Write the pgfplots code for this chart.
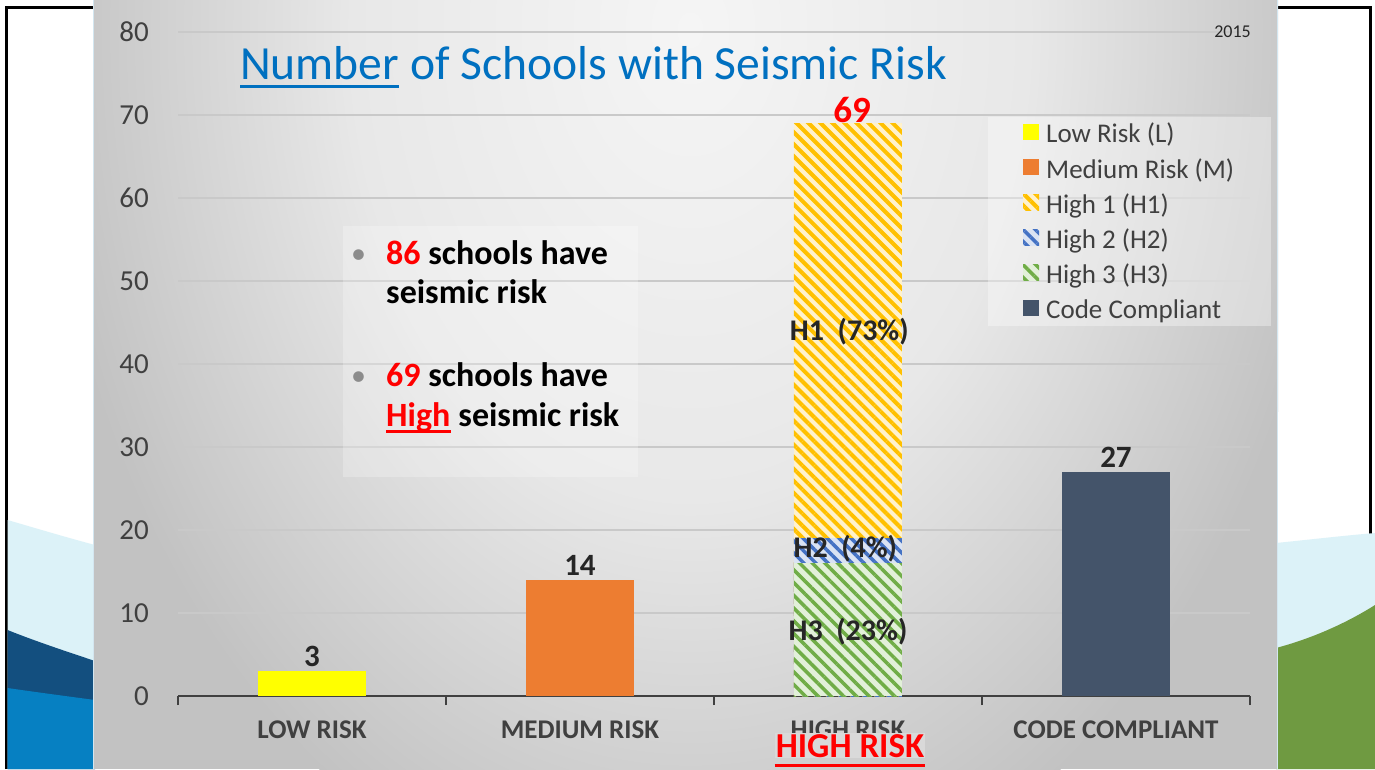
\documentclass[border=0pt]{standalone}
\usepackage{pgfplots}
\pgfplotsset{compat=1.18}
\usepackage{fontspec}
\setmainfont{Carlito}
\usetikzlibrary{patterns.meta}
\definecolor{lowc}{HTML}{FFFF00}
\definecolor{medc}{HTML}{ED7D31}
\definecolor{codec}{HTML}{44546A}
\definecolor{h1fg}{HTML}{FFC000}
\definecolor{h1bg}{HTML}{FFF2CC}
\definecolor{h2fg}{HTML}{4472C4}
\definecolor{h2bg}{HTML}{DAE3F3}
\definecolor{h3fg}{HTML}{70AD47}
\definecolor{h3bg}{HTML}{E2F0D9}
\definecolor{titleblue}{HTML}{0070C0}
\definecolor{axgray}{HTML}{404040}
\definecolor{labdark}{HTML}{262626}
\definecolor{gridc}{HTML}{C9C9C9}
\definecolor{lblue}{HTML}{DCF2F8}
\definecolor{navy}{HTML}{134F7F}
\definecolor{dblue}{HTML}{0680C2}
\definecolor{grn}{HTML}{6F9A41}
\definecolor{pc1}{HTML}{F5F5F5}
\definecolor{pc2}{HTML}{E8E8E8}
\definecolor{pc3}{HTML}{C2C2C2}
\definecolor{edgeb}{HTML}{D3E6F0}
\pgfdeclareradialshading{panel}{\pgfpoint{0bp}{0bp}}{color(0bp)=(pc1); color(13bp)=(pc2); color(25bp)=(pc3); color(50bp)=(pc3)}
\begin{document}
\begin{tikzpicture}[x=1pt,y=1pt]
\useasboundingbox (0,0) rectangle (1375,769);
\fill[white] (0,0) rectangle (1375,769);
% frame
\draw[black, line width=3pt] (6,0) -- (6,761) -- (1370,761) -- (1370,0);
% left decoration
\fill[lblue] (7.5,0) -- (7.5,249) .. controls (35,241) and (65,232) .. (95,224) -- (95,0) -- cycle;
\fill[navy] (7.5,0) -- (7.5,139) .. controls (35,128) and (65,118) .. (95,108) -- (95,0) -- cycle;
\fill[dblue] (7.5,0) -- (7.5,81) .. controls (35,77) and (65,73) .. (95,69) -- (95,0) -- cycle;
% right decoration
\fill[lblue] (1276,0) -- (1276,226) .. controls (1306,229) and (1340,233) .. (1375,236) -- (1375,0) -- cycle;
\fill[grn] (1276,0) -- (1276,121) .. controls (1310,130) and (1345,145) .. (1375,164) -- (1375,0) -- cycle;
% panel
\fill[pc3] (93,0) rectangle (1278,769);
\begin{scope}
\clip (93,0) rectangle (1278,769);
\shade[shading=panel] (690,739) ellipse [x radius=650, y radius=900];
\end{scope}
\draw[edgeb, line width=1.2pt] (93.6,0) -- (93.6,769);
\draw[edgeb, line width=1.2pt] (1277.4,0) -- (1277.4,769);

\begin{axis}[
  at={(178pt,73pt)}, anchor=south west,
  scale only axis, width=1072pt, height=664pt,
  xmin=-0.5, xmax=3.5, ymin=0, ymax=80,
  ytick={0,10,...,80},
  xtick={0,1,2,3},
  xticklabels={LOW RISK, MEDIUM RISK, HIGH RISK, CODE COMPLIANT},
  minor xtick={-0.5,0.5,1.5,2.5,3.5},
  axis lines*=left,
  y axis line style={draw=none},
  x axis line style={draw=axgray, line width=2pt},
  ymajorgrids,
  major grid style={draw=gridc, line width=1.4pt},
  ytick style={draw=none},
  major x tick style={draw=none},
  minor x tick style={draw=axgray, line width=2pt},
  tick align=outside,
  major tick length=0pt,
  minor tick length=9pt,
  xticklabel style={font=\fontsize{27}{28}\selectfont\bfseries, text=axgray, inner sep=0pt, anchor=north, yshift=-25pt},
  yticklabel style={font=\fontsize{29}{30}\selectfont, text=axgray, inner sep=0pt, anchor=east, xshift=-29pt},
  /pgf/number format/assume math mode=true,
  ybar, bar width=108pt, bar shift=0pt,
  legend image code/.code={\fill[#1, fill opacity=1] (0pt,-6pt) rectangle (16pt,10pt);},
  legend style={at={(0.7556,0.872)}, anchor=north west, draw=none, fill=white, fill opacity=0.35, text opacity=1,
    font=\fontsize{27}{30}\selectfont, text=axgray, inner xsep=35pt, inner ysep=4pt, row sep=10pt,
    nodes={inner sep=2pt}, /tikz/every odd column/.append style={column sep=5pt}},
  legend cell align=left,
  clip=false,
]
\addplot[fill=lowc, draw=none, nodes near coords,
  every node near coord/.append style={font=\fontsize{31}{32}\selectfont\bfseries, text=labdark, inner sep=0pt, anchor=south, yshift=4pt}]
  coordinates {(0,3)};
\addlegendentry{Low Risk (L)}
\addplot[fill=medc, draw=none, nodes near coords,
  every node near coord/.append style={font=\fontsize{31}{32}\selectfont\bfseries, text=labdark, inner sep=0pt, anchor=south, yshift=4pt}]
  coordinates {(1,14)};
\addlegendentry{Medium Risk (M)}
% high risk stack, drawn from the top down: H1 top 69, H2 top 19, H3 top 16
\addplot[fill=h1bg, draw=none, postaction={pattern={Lines[angle=-45,distance=8.5pt,line width=4pt]}, pattern color=h1fg}]
  coordinates {(2,69)};
\addlegendentry{High 1 (H1)}
\addplot[fill=h2bg, draw=none, postaction={pattern={Lines[angle=-45,distance=8.5pt,line width=3.5pt]}, pattern color=h2fg}]
  coordinates {(2,19)};
\addlegendentry{High 2 (H2)}
\addplot[fill=h3bg, draw=none, postaction={pattern={Lines[angle=-45,distance=9pt,line width=3.5pt]}, pattern color=h3fg}]
  coordinates {(2,16)};
\addlegendentry{High 3 (H3)}
\addplot[fill=codec, draw=none, nodes near coords,
  every node near coord/.append style={font=\fontsize{31}{32}\selectfont\bfseries, text=labdark, inner sep=0pt, anchor=south, yshift=4pt}]
  coordinates {(3,27)};
\addlegendentry{Code Compliant}
\node[anchor=base, inner sep=0pt, font=\fontsize{37}{38}\selectfont\bfseries, text=red] at (axis cs:2.015,69.1) {69};
\node[anchor=center, inner sep=0pt, font=\fontsize{30}{32}\selectfont\bfseries, text=labdark] at (axis cs:2.005,43.9) {H1\ \ (73\%)};
\node[anchor=center, inner sep=0pt, font=\fontsize{30}{32}\selectfont\bfseries, text=labdark] at (axis cs:1.99,17.7) {H2\ \ (4\%)};
\node[anchor=center, inner sep=0pt, font=\fontsize{30}{32}\selectfont\bfseries, text=labdark] at (axis cs:2.0,7.7) {H3\ \ (23\%)};
\end{axis}

% text box
\fill[white, opacity=0.25] (343,292) rectangle (638,543);
\node[anchor=base west, inner sep=0pt, font=\fontsize{30}{32}\selectfont, text=black!45] at (351,769-264) {•};
\node[anchor=base west, inner sep=0pt, font=\fontsize{30}{32}\selectfont, text=black!45] at (351,769-386) {•};
\begin{scope}[every node/.style={anchor=base west, inner sep=0pt, font=\fontsize{34}{40}\selectfont\bfseries, text=black}]
\node at (386,769-265) {\textcolor{red}{86} schools have};
\node at (386,769-304) {seismic risk};
\node at (386,769-387) {\textcolor{red}{69} schools have};
\node[text=red] (hi) at (386,769-427) {High};
\node at (hi.base east) {\ seismic risk};
\end{scope}
\draw[red, line width=3pt] ([yshift=-5pt]hi.base west) -- ([yshift=-5pt]hi.base east);

% title
\node[anchor=base west, inner sep=0pt, font=\fontsize{47.6}{50}\selectfont, text=titleblue] (num) at (240,769-80) {Number};
\node[anchor=base west, inner sep=0pt, font=\fontsize{47.6}{50}\selectfont, text=titleblue] at (num.base east) {\ of Schools with Seismic Risk};
\draw[titleblue, line width=3pt] ([yshift=-7pt]num.base west) -- ([yshift=-7pt]num.base east);

% year
\node[anchor=base east, inner sep=0pt, font=\fontsize{18}{20}\selectfont, text=labdark] at (1251,769-38) {2015};

% red HIGH RISK
\node[anchor=base, fill=black!15, inner xsep=1pt, inner ysep=1pt, font=\fontsize{35}{36}\selectfont\bfseries, text=red] (hr) at (850,769-757) {HIGH RISK};
\draw[red, line width=3pt] ([yshift=-8pt]hr.base west) -- ([yshift=-8pt]hr.base east);
\end{tikzpicture}
\end{document}
